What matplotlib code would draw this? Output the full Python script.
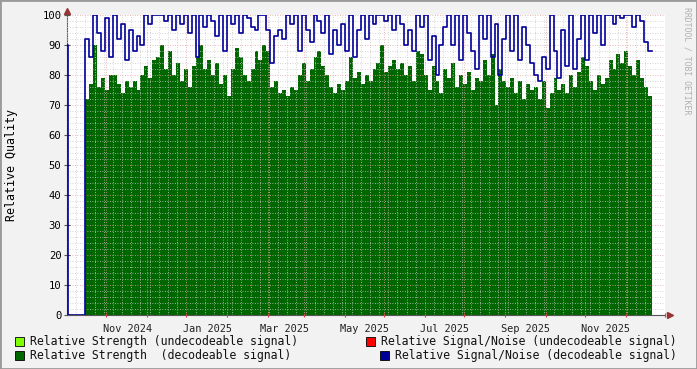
import numpy as np
import pandas as pd
import matplotlib
matplotlib.use('Agg')
import matplotlib.pyplot as plt
import matplotlib.dates as mdates
from matplotlib.patches import Rectangle

# first short sample, then a gap, then 3-day samples from 2024-09-30
spike_date = '2024-09-16'
spike_strength = 82
spike_snr = 90
main_start = '2024-09-30'

strength = [72, 77, 90, 76, 79, 75, 80, 80, 77, 74, 78, 76, 78, 75, 80, 83, 79, 85, 86, 90,
            82, 88, 80, 84, 78, 82, 76, 83, 86, 90, 82, 85, 80, 84, 77, 80, 73, 82, 89, 86, 80, 78, 82,
            88, 85, 90, 88, 76, 78, 74, 75, 73, 76, 75, 80, 84, 78, 82, 86, 88, 83, 80, 76, 74, 77, 75, 78,
            86, 79, 81, 77, 80, 78, 82, 84, 90, 81, 83, 85, 82, 84, 80, 83, 78, 88, 87, 80, 75, 83, 78, 74,
            82, 79, 84, 76, 80, 77, 81, 75, 79, 78, 85, 80, 87, 70, 82, 78, 76, 79, 74, 78, 72, 77, 75,
            76, 72, 78, 69, 74, 79, 75, 77, 74, 80, 76, 81, 86, 83, 78, 75, 80, 77, 79, 85, 82, 87, 84, 88,
            83, 80, 85, 79, 76, 73]

snr = [92, 86, 100, 94, 88, 99, 86, 100, 92, 97, 85, 95, 88, 93, 90, 100, 97, 100, 100, 100,
       98, 100, 95, 100, 97, 100, 94, 100, 86, 100, 96, 100, 98, 93, 100, 88, 100, 97, 100, 94, 100, 99, 96,
       95, 100, 100, 95, 84, 93, 95, 92, 100, 97, 100, 88, 100, 95, 91, 100, 98, 94, 100, 87, 95, 90, 97, 88,
       100, 86, 95, 100, 92, 100, 97, 100, 100, 98, 100, 95, 100, 97, 90, 95, 88, 100, 96, 100, 85, 93, 80, 90,
       96, 100, 90, 100, 85, 100, 94, 88, 82, 100, 92, 100, 86, 97, 80, 92, 100, 88, 100, 85, 96, 90, 84,
       80, 78, 86, 82, 100, 88, 79, 95, 83, 100, 82, 92, 100, 85, 100, 94, 100, 90, 100, 100, 97, 100, 99, 100,
       100, 96, 100, 98, 91, 88]

legend_labels = ['Relative Strength (undecodeable signal)',
                 'Relative Strength  (decodeable signal)',
                 'Relative Signal/Noise (undecodeable signal)',
                 'Relative Signal/Noise (decodeable signal)']

GREEN = '#006600'
LIGHT_GREEN = '#80ff00'
RED = '#ff0000'
BLUE = '#000099'
BG = '#f2f2f2'

mono = 'DejaVu Sans Mono'

fig = plt.figure(figsize=(6.97, 3.69), dpi=100, facecolor=BG)
ax = fig.add_axes([67 / 697, 54 / 369, 598 / 697, 300 / 369])
ax.set_facecolor('white')

dates = pd.date_range(main_start, periods=len(strength), freq='3D')
step = pd.Timedelta(days=3)

# green area
ax.bar(pd.Timestamp(spike_date), spike_strength, width=1, align='edge', color=GREEN, linewidth=0, zorder=1)
ax.bar(dates, strength, width=3, align='edge', color=GREEN, linewidth=0, zorder=1)

# blue step line, zero across the gap
bx = [pd.Timestamp(spike_date), pd.Timestamp(spike_date) + pd.Timedelta(days=1)] + list(dates) + [dates[-1] + step]
by = [spike_snr, 0] + snr + [snr[-1]]
ax.step(bx, by, where='post', color=BLUE, linewidth=1.2, zorder=3)

ax.set_xlim(pd.Timestamp('2024-09-16'), pd.Timestamp('2025-12-03'))
ax.set_ylim(0, 100)

# grid
ax.set_yticks(np.arange(0, 101, 10))
ax.set_yticks(np.arange(0, 101, 2), minor=True)
ax.set_yticklabels([str(v) for v in range(0, 101, 10)], fontfamily=mono, fontsize=7.6)

major_grid = pd.date_range('2024-09-16', '2025-12-03', freq='MS') + pd.Timedelta(days=15)
minor_grid = pd.date_range('2024-09-16', '2025-12-03', freq='W-MON')
ax.set_xticks(major_grid)
ax.set_xticks(minor_grid, minor=True)
ax.set_xticklabels([])
ax.tick_params(axis='x', which='major', length=3, color='#cc4444', direction='inout')
ax.tick_params(axis='x', which='minor', length=0)
ax.tick_params(axis='y', which='major', length=4, color='#555555', direction='inout', pad=2)
ax.tick_params(axis='y', which='minor', length=0)

ax.grid(True, which='minor', color='#c8c8c8', linestyle=(0, (1, 2)), linewidth=0.6)
ax.grid(True, which='major', color='#e0a0a0', linestyle=(0, (1, 2)), linewidth=0.6)
ax.set_axisbelow(False)

# month labels every other month, placed between grid lines
label_dates = pd.date_range('2024-11-01', '2025-11-01', freq='2MS')
for d in label_dates:
    ax.text(mdates.date2num(d), -3, d.strftime('%b %Y'), ha='center', va='top',
            fontfamily=mono, fontsize=7.4, color='#222222')

for s in ['top', 'right']:
    ax.spines[s].set_visible(False)
for s in ['left', 'bottom']:
    ax.spines[s].set_color('#555555')
    ax.spines[s].set_linewidth(0.8)

# arrows at axis ends
ax.plot([1.008], [0], marker='>', color='#993333', markersize=4, transform=ax.transAxes, clip_on=False)
ax.plot([0], [1.012], marker='^', color='#993333', markersize=4, transform=ax.transAxes, clip_on=False)

ax.set_ylabel('Relative Quality', fontfamily=mono, fontsize=8.4)
ax.yaxis.set_label_coords((18 - 67) / 598, 0.5)

fig.text(687 / 697, 1 - 61 / 369, 'RRDTOOL / TOBI OETIKER', rotation=270, ha='center', va='center',
         fontfamily=mono, fontsize=5.9, color='#b0b0b0')

# legend
leg_items = [(15, 341, LIGHT_GREEN, legend_labels[0]),
             (15, 355, GREEN, legend_labels[1]),
             (366, 341, RED, legend_labels[2]),
             (380, 355, BLUE, legend_labels[3])]
for x, y, c, t in leg_items:
    fig.patches.append(Rectangle((x / 697, 1 - (y + 5) / 369), 9 / 697, 9 / 369,
                                 transform=fig.transFigure, facecolor=c, edgecolor='black', linewidth=0.6))
    fig.text((x + 15) / 697, 1 - y / 369, t, ha='left', va='center', fontfamily=mono, fontsize=8.3, color='#111111')

# frame
fig.patches.append(Rectangle((0, 0), 1, 1, transform=fig.transFigure, fill=False,
                             edgecolor='#9a9a9a', linewidth=2))

fig.savefig('out.png', dpi=100, facecolor=BG)
plt.close(fig)
